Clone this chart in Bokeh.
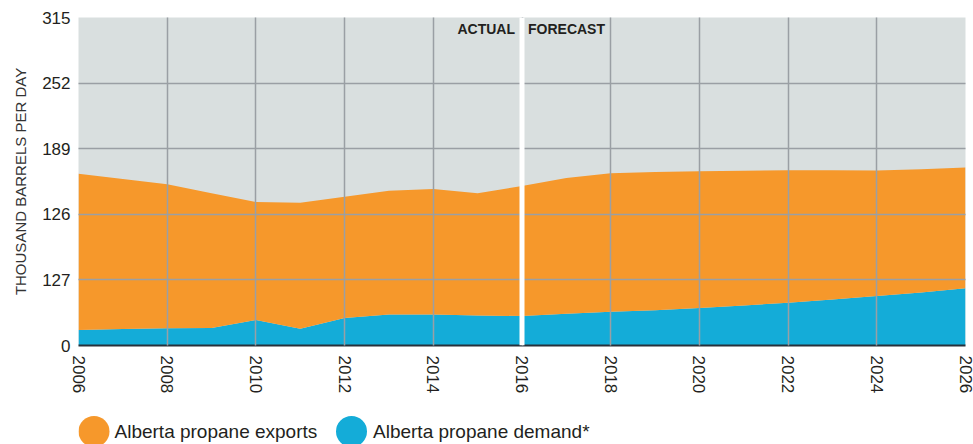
from bokeh.plotting import figure
from bokeh.models import Range1d, FixedTicker, Span, Label, ColumnDataSource
from bokeh.layouts import column
from bokeh.core.properties import value
from bokeh.embed import file_html
from bokeh.resources import INLINE

# ---- data ----
years = list(range(2006, 2027))
demand = [15.0, 15.8, 16.6, 16.9, 24.6, 16.0, 26.3, 29.8, 29.8, 28.8, 28.3,
          30.4, 32.3, 33.9, 35.9, 38.5, 41.0, 44.2, 47.5, 51.0, 55.0]
exports = [150.0, 144.1, 138.2, 129.4, 113.2, 121.1, 116.6, 118.9, 120.5, 117.4, 124.9,
           130.5, 133.1, 132.7, 131.4, 129.4, 127.3, 124.2, 120.5, 118.2, 116.0]
series_names = ["Alberta propane exports", "Alberta propane demand*"]
y_ticks = [0, 63, 126, 189, 252, 315]
y_tick_labels = ["0", "127", "126", "189", "252", "315"]
x_ticks = list(range(2006, 2027, 2))
split_year = 2016

ORANGE = "#f6982b"
BLUE = "#14acd8"
BG = "#d9dfdf"
GRID = "#9a9fa4"
TXT = "#231f20"
FONT = "Liberation Sans"

FRAME_L, FRAME_R = 78, 965
W = 973

source = ColumnDataSource(dict(year=years, demand=demand, exports=exports))

p = figure(width=W, height=402, output_backend="svg", toolbar_location=None,
           x_range=Range1d(2006, 2026), y_range=Range1d(0, 315),
           min_border_left=FRAME_L, min_border_right=W - FRAME_R,
           min_border_top=17, min_border_bottom=57)
p.outline_line_color = None
p.background_fill_color = BG
p.border_fill_color = "white"

p.varea_stack(["demand", "exports"], x="year", color=[BLUE, ORANGE], source=source)

# grids
p.xgrid.ticker = FixedTicker(ticks=x_ticks)
p.ygrid.ticker = FixedTicker(ticks=y_ticks)
for g in (p.xgrid, p.ygrid):
    g.grid_line_color = GRID
    g.grid_line_width = 1.5
    g.level = "guide"

# axes
p.yaxis.ticker = FixedTicker(ticks=y_ticks)
p.yaxis.major_label_overrides = {t: l for t, l in zip(y_ticks, y_tick_labels)}
p.yaxis.axis_line_color = None
p.yaxis.major_tick_line_color = None
p.yaxis.minor_tick_line_color = None
p.yaxis.major_tick_out = 0
p.yaxis.major_tick_in = 0
p.yaxis.major_label_standoff = 8
p.yaxis.axis_label = "THOUSAND BARRELS PER DAY"
p.yaxis.axis_label_text_font_style = "normal"
p.yaxis.axis_label_text_font_size = "15px"
p.yaxis.axis_label_text_font = FONT
p.yaxis.axis_label_text_color = "#333333"
p.yaxis.axis_label_standoff = 10

p.xaxis.ticker = FixedTicker(ticks=x_ticks)
p.xaxis.major_label_orientation = "vertical"
p.xaxis.axis_line_color = "#27313b"
p.xaxis.axis_line_width = 2
p.xaxis.major_tick_line_color = None
p.xaxis.minor_tick_line_color = None
p.xaxis.major_tick_out = 0
p.xaxis.major_tick_in = 0
p.xaxis.major_label_standoff = 10

for ax in (p.xaxis, p.yaxis):
    ax.major_label_text_font = FONT
    ax.major_label_text_font_size = "17px"
    ax.major_label_text_color = TXT

# actual / forecast divider
p.add_layout(Span(location=split_year, dimension="height", line_color="white", line_width=5))
p.add_layout(Label(x=split_year, y=315, x_offset=-7, y_offset=-11, text="ACTUAL",
                   text_align="right", text_baseline="middle", text_font=FONT,
                   text_font_style="bold", text_font_size="14px", text_color=TXT))
p.add_layout(Label(x=split_year, y=315, x_offset=6, y_offset=-11, text="FORECAST",
                   text_align="left", text_baseline="middle", text_font=FONT,
                   text_font_style="bold", text_font_size="14px", text_color=TXT))

# legend strip (frame is aligned with the chart frame, so x is in page pixels)
lg = figure(width=W, height=42, output_backend="svg", toolbar_location=None,
            x_range=Range1d(FRAME_L, FRAME_R), y_range=Range1d(42, 0),
            x_axis_location=None, y_axis_location=None,
            min_border_left=FRAME_L, min_border_right=W - FRAME_R,
            min_border_top=0, min_border_bottom=0)
lg.outline_line_color = None
lg.xgrid.visible = False
lg.ygrid.visible = False
lg_src = ColumnDataSource(dict(x=[93.5, 351.0], y=[29, 29], tx=[114.0, 372.5],
                               color=[ORANGE, BLUE], label=series_names))
lg.scatter(x="x", y="y", size=31, color="color", line_color=None, source=lg_src)
lg.text(x="tx", y="y", text="label", text_font=value(FONT), text_font_size="19px",
        text_color=TXT, text_baseline="middle", text_align="left", source=lg_src)

layout = column(p, lg, spacing=0)
open("out.html", "w").write(file_html(layout, INLINE))
